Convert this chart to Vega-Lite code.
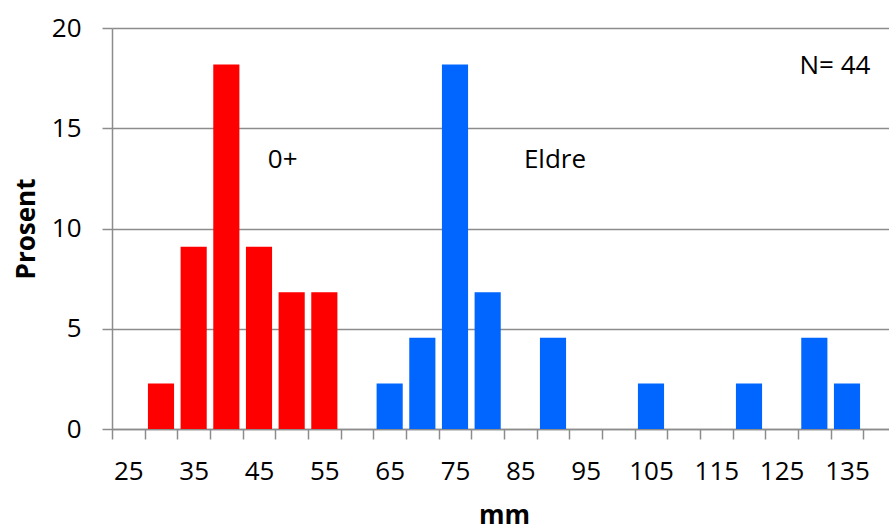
{
  "$schema": "https://vega.github.io/schema/vega-lite/v6.json",
  "autosize": {"type": "none"},
  "width": 777,
  "height": 401,
  "padding": {"left": 112, "top": 28, "right": 0, "bottom": 101},
  "background": "white",
  "config": {
    "view": {"stroke": null},
    "font": "Open Sans",
    "axis": {"labelColor": "black", "titleColor": "black"}
  },
  "datasets": {
    "bars": [
      {"mm": 30, "prosent": 2.27, "gruppe": "0+"},
      {"mm": 35, "prosent": 9.09, "gruppe": "0+"},
      {"mm": 40, "prosent": 18.18, "gruppe": "0+"},
      {"mm": 45, "prosent": 9.09, "gruppe": "0+"},
      {"mm": 50, "prosent": 6.82, "gruppe": "0+"},
      {"mm": 55, "prosent": 6.82, "gruppe": "0+"},
      {"mm": 65, "prosent": 2.27, "gruppe": "Eldre"},
      {"mm": 70, "prosent": 4.55, "gruppe": "Eldre"},
      {"mm": 75, "prosent": 18.18, "gruppe": "Eldre"},
      {"mm": 80, "prosent": 6.82, "gruppe": "Eldre"},
      {"mm": 90, "prosent": 4.55, "gruppe": "Eldre"},
      {"mm": 105, "prosent": 2.27, "gruppe": "Eldre"},
      {"mm": 120, "prosent": 2.27, "gruppe": "Eldre"},
      {"mm": 130, "prosent": 4.55, "gruppe": "Eldre"},
      {"mm": 135, "prosent": 2.27, "gruppe": "Eldre"}
    ]
  },
  "layer": [
    {
      "data": {"name": "bars"},
      "mark": {"type": "bar", "width": {"band": 0.8}},
      "encoding": {
        "x": {
          "field": "mm",
          "type": "ordinal",
          "scale": {
            "domain": [25, 30, 35, 40, 45, 50, 55, 60, 65, 70, 75, 80, 85, 90, 95, 100, 105, 110, 115, 120, 125, 130, 135, 140],
            "range": [0, 784],
            "paddingInner": 0,
            "paddingOuter": 0
          },
          "axis": {
            "title": "mm",
            "titleFontSize": 26,
            "titleFontWeight": "bold",
            "titlePadding": 18,
            "labelFontSize": 26,
            "labelAngle": 0,
            "labelPadding": 19,
            "labelOverlap": false,
            "labelFlush": false,
            "labelExpr": "datum.value % 10 == 5 ? datum.label : ''",
            "tickBand": "extent",
            "tickSize": 10,
            "tickColor": "#8c8c8c",
            "tickWidth": 1.5,
            "domainColor": "#8c8c8c",
            "domainWidth": 1.5,
            "grid": false
          }
        },
        "y": {
          "field": "prosent",
          "type": "quantitative",
          "scale": {"domain": [0, 20], "nice": false},
          "axis": {
            "title": "Prosent",
            "titleFontSize": 26,
            "titleFontWeight": "bold",
            "titlePadding": 12,
            "values": [0, 5, 10, 15, 20],
            "labelFontSize": 26,
            "labelPadding": 21,
            "tickSize": 10,
            "tickColor": "#8c8c8c",
            "tickWidth": 1.5,
            "domainColor": "#8c8c8c",
            "domainWidth": 1.5,
            "gridColor": "#8c8c8c",
            "gridWidth": 1.5
          }
        },
        "color": {
          "field": "gruppe",
          "type": "nominal",
          "scale": {"domain": ["0+", "Eldre"], "range": ["#ff0000", "#0066ff"]},
          "legend": null
        }
      }
    },
    {
      "data": {"values": [{"mm": 50, "y": 13.4, "tekst": "0+"}]},
      "mark": {"type": "text", "fontSize": 26, "align": "center", "baseline": "middle", "dx": -9, "color": "black"},
      "encoding": {
        "x": {"field": "mm", "type": "ordinal"},
        "y": {"field": "y", "type": "quantitative"},
        "text": {"field": "tekst"}
      }
    },
    {
      "data": {"values": [{"mm": 90, "y": 13.4, "tekst": "Eldre"}]},
      "mark": {"type": "text", "fontSize": 26, "align": "center", "baseline": "middle", "dx": 2, "color": "black"},
      "encoding": {
        "x": {"field": "mm", "type": "ordinal"},
        "y": {"field": "y", "type": "quantitative"},
        "text": {"field": "tekst"}
      }
    },
    {
      "data": {"values": [{"mm": 135, "y": 18.1, "tekst": "N= 44"}]},
      "mark": {"type": "text", "fontSize": 26, "align": "center", "baseline": "middle", "dx": -12, "color": "black"},
      "encoding": {
        "x": {"field": "mm", "type": "ordinal"},
        "y": {"field": "y", "type": "quantitative"},
        "text": {"field": "tekst"}
      }
    }
  ]
}
